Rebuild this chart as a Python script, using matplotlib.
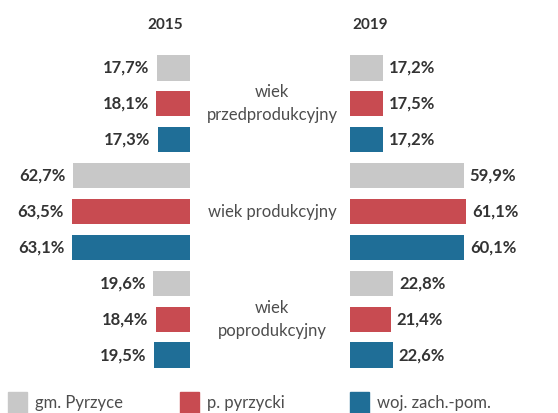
import matplotlib
matplotlib.use("Agg")
import matplotlib.pyplot as plt
from matplotlib.patches import Rectangle

categories = ["wiek\nprzedprodukcyjny", "wiek produkcyjny", "wiek\npoprodukcyjny"]
series = ["gm. Pyrzyce", "p. pyrzycki", "woj. zach.-pom."]
years = ["2015", "2019"]
vals_2015 = [[17.7, 18.1, 17.3], [62.7, 63.5, 63.1], [19.6, 18.4, 19.5]]
vals_2019 = [[17.2, 17.5, 17.2], [59.9, 61.1, 60.1], [22.8, 21.4, 22.6]]
colors = ["#c8c8c8", "#c84b51", "#1f6e97"]

plt.rcParams['font.family'] = ['Lato', 'DejaVu Sans']
W, H = 558, 413
fig = plt.figure(figsize=(W/100, H/100), dpi=100)
fig.patch.set_facecolor("white")

top_px, bot_px = 50, 373
ax_b = 1 - bot_px/H
ax_h = (bot_px - top_px)/H
axL = fig.add_axes([0, ax_b, 190/W, ax_h])
axR = fig.add_axes([350/W, ax_b, (W-350)/W, ax_h])
axL.set_xlim(190/1.866, 0)
axR.set_xlim(0, (W-350)/1.9)

def fmt(v):
    return f"{v:.1f}".replace(".", ",") + "%"

for ax, vals, side in [(axL, vals_2015, "L"), (axR, vals_2019, "R")]:
    ax.set_ylim(8.5, -0.5)
    ax.axis("off")
    for ci, grp in enumerate(vals):
        for si, v in enumerate(grp):
            y = ci*3 + si
            ax.barh(y, v, height=0.7, color=colors[si])
            if side == "L":
                ax.text(v + 4.0, y, fmt(v), ha="right", va="center",
                        fontsize=12, fontweight="bold", color="#333333")
            else:
                ax.text(v + 3.0, y, fmt(v), ha="left", va="center",
                        fontsize=12, fontweight="bold", color="#333333")

# year titles
fig.text(165/W, 1 - 25/H, years[0], ha="center", va="center",
         fontsize=11, fontweight="bold", color="#333333")
fig.text(370/W, 1 - 25/H, years[1], ha="center", va="center",
         fontsize=11, fontweight="bold", color="#333333")

# category labels
for ci, cat in enumerate(categories):
    ypx = top_px + (ci*3 + 1 + 0.5) * (bot_px - top_px)/9
    fig.text(272/W, 1 - ypx/H, cat, ha="center", va="center",
             fontsize=12, color="#4d4d4d", linespacing=1.55)

# legend
leg_x = [8, 180, 350]
for i, (name, c) in enumerate(zip(series, colors)):
    fig.patches.append(Rectangle((leg_x[i]/W, 1 - 413/H), 19/W, 21/H,
                                 transform=fig.transFigure, color=c))
    fig.text((leg_x[i] + 27)/W, 1 - 403/H, name, ha="left", va="center",
             fontsize=12, color="#4d4d4d")

fig.savefig("out.png", dpi=100)
